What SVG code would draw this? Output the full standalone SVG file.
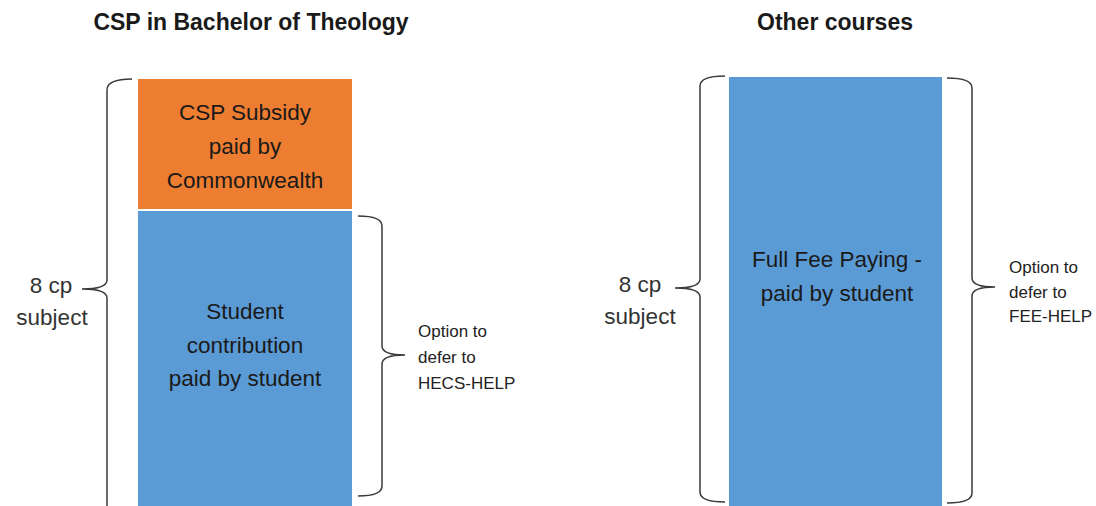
<svg xmlns="http://www.w3.org/2000/svg" width="1096" height="506" viewBox="0 0 1096 506">
<style>
text{font-family:"Liberation Sans",Arial,sans-serif;fill:#1a1a1a}
.title{font-size:23px;font-weight:bold;text-anchor:middle}
.box{font-size:22.5px;text-anchor:middle}
.lbl{font-size:22.5px;text-anchor:middle;fill:#333}
.note{font-size:17px;fill:#222}
.brace{fill:none;stroke:#3a3a3a;stroke-width:1.5}
</style>
<rect width="1096" height="506" fill="#fff"/>
<text class="title" x="251" y="30">CSP in Bachelor of Theology</text>
<text class="title" x="835" y="30">Other courses</text>
<g id="csp-subsidy">
<rect x="138" y="79" width="214" height="130" fill="#ED7D31"/>
<text class="box" x="245" y="120">CSP Subsidy</text>
<text class="box" x="245" y="154">paid by</text>
<text class="box" x="245" y="188">Commonwealth</text>
</g>
<g id="student-contribution">
<rect x="138" y="211" width="214" height="300" fill="#5B9BD5"/>
<text class="box" x="245" y="319">Student</text>
<text class="box" x="245" y="353">contribution</text>
<text class="box" x="245" y="386">paid by student</text>
</g>
<g id="full-fee">
<rect x="729" y="77" width="213" height="434" fill="#5B9BD5"/>
<text class="box" x="837" y="267">Full Fee Paying -</text>
<text class="box" x="837" y="301">paid by student</text>
</g>
<g id="braces">
<path class="brace" d="M132,79 Q107,79 107,90 L107,280 Q107,289 82,289 Q107,289 107,298 L107,510"/>
<path class="brace" d="M358,216 Q382,216 382,226 L382,346 Q382,355 405,355 Q382,355 382,364 L382,486 Q382,496 358,496"/>
<path class="brace" d="M725,76 Q700,76 700,86 L700,279 Q700,288 675,288 Q700,288 700,297 L700,492 Q700,502 725,502"/>
<path class="brace" d="M947,78 Q972,78 972,88 L972,278 Q972,287 995,287 Q972,287 972,296 L972,493 Q972,503 947,503"/>
</g>
<g id="labels">
<text class="lbl" x="51" y="293">8 cp</text>
<text class="lbl" x="52" y="325">subject</text>
<text class="lbl" x="640" y="292">8 cp</text>
<text class="lbl" x="640" y="324">subject</text>
<text class="note" x="418" y="337">Option to</text>
<text class="note" x="418" y="363">defer to</text>
<text class="note" x="418" y="389">HECS-HELP</text>
<text class="note" x="1009" y="273">Option to</text>
<text class="note" x="1009" y="298">defer to</text>
<text class="note" x="1009" y="322">FEE-HELP</text>
</g>
</svg>
